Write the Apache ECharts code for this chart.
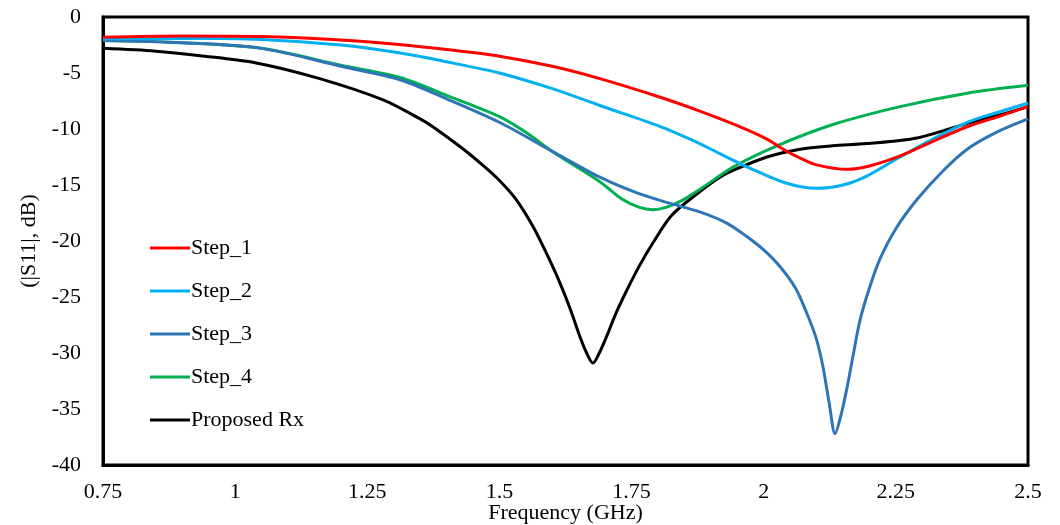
<!DOCTYPE html>
<html>
<head>
<meta charset="utf-8">
<script src="https://cdn.jsdelivr.net/npm/echarts@6/dist/echarts.min.js"></script>
<style>
html,body{margin:0;padding:0;background:#fff;}
#chart{width:1060px;height:525px;}
</style>
</head>
<body>
<div id="chart"></div>
<script>
const seriesNames = ['Step_1', 'Step_2', 'Step_3', 'Step_4', 'Proposed Rx'];
const seriesColors = ['#FF0000', '#00B0F0', '#2E75B6', '#00B050', '#000000'];

const step1Freq = [0.75, 0.9, 1.05, 1.2, 1.31, 1.4, 1.5, 1.6, 1.69, 1.8, 1.879, 1.95, 2.006, 2.04, 2.069, 2.1, 2.158, 2.2, 2.258, 2.32, 2.385, 2.45, 2.5];
const step1Vals = [-1.8, -1.7, -1.75, -2.05, -2.45, -2.9, -3.5, -4.4, -5.5, -7.1, -8.4, -9.7, -10.9, -11.9, -12.6, -13.2, -13.6, -13.3, -12.4, -11.1, -9.8, -8.8, -8.0];

const step2Freq = [0.75, 0.9, 1.05, 1.2, 1.31, 1.4, 1.5, 1.6, 1.69, 1.8, 1.879, 1.917, 1.974, 2.04, 2.1, 2.15, 2.195, 2.258, 2.32, 2.385, 2.45, 2.5];
const step2Vals = [-1.95, -1.9, -2.0, -2.5, -3.2, -4.0, -5.0, -6.4, -7.9, -9.7, -11.3, -12.2, -13.5, -14.8, -15.3, -15.0, -14.2, -12.5, -10.9, -9.4, -8.4, -7.7];

const step3Freq = [0.75, 0.9, 1.05, 1.2, 1.312, 1.4, 1.5, 1.6, 1.69, 1.76, 1.82, 1.879, 1.93, 1.968, 2.0, 2.031, 2.06, 2.082, 2.1, 2.112, 2.124, 2.135, 2.146, 2.158, 2.17, 2.182, 2.2, 2.22, 2.25, 2.29, 2.34, 2.385, 2.44, 2.5];
const step3Vals = [-2.1, -2.3, -2.8, -4.4, -5.6, -7.3, -9.4, -12.0, -14.3, -15.7, -16.6, -17.4, -18.4, -19.6, -20.8, -22.3, -24.2, -26.5, -28.8, -31.2, -34.5, -37.2, -35.6, -33.0, -30.0, -27.1, -24.2, -21.6, -18.9, -16.3, -13.7, -11.8, -10.3, -9.1];

const step4Freq = [0.75, 0.9, 1.05, 1.2, 1.312, 1.4, 1.5, 1.55, 1.6, 1.69, 1.73, 1.765, 1.79, 1.815, 1.845, 1.879, 1.942, 2.025, 2.131, 2.258, 2.385, 2.5];
const step4Vals = [-2.1, -2.3, -2.8, -4.3, -5.4, -7.0, -8.9, -10.3, -12.0, -14.7, -16.2, -17.0, -17.2, -17.0, -16.4, -15.4, -13.4, -11.5, -9.6, -8.0, -6.8, -6.1];

const rxFreq = [0.75, 0.85, 0.9335, 1.04, 1.16, 1.28, 1.35, 1.374, 1.429, 1.47, 1.5, 1.53, 1.5635, 1.59, 1.615, 1.635, 1.652, 1.665, 1.677, 1.689, 1.703, 1.72, 1.741, 1.765, 1.79, 1.826, 1.879, 1.917, 1.942, 2.006, 2.069, 2.13, 2.195, 2.29, 2.385, 2.45, 2.5];
const rxVals = [-2.8, -3.05, -3.45, -4.1, -5.5, -7.4, -9.1, -9.8, -11.7, -13.3, -14.6, -16.2, -18.7, -21.2, -23.8, -26.2, -28.5, -30.0, -30.9, -30.0, -28.5, -26.5, -24.4, -22.2, -20.2, -17.7, -15.6, -14.3, -13.7, -12.5, -11.8, -11.5, -11.3, -10.8, -9.5, -8.7, -8.0];

const freqArrays = [step1Freq, step2Freq, step3Freq, step4Freq, rxFreq];
const valArrays = [step1Vals, step2Vals, step3Vals, step4Vals, rxVals];

const xTickMin = 0.75, xTickMax = 2.5, xTickStep = 0.25;
const yTickMin = -40, yTickMax = 0, yTickStep = 5;

const font = 'Liberation Serif';
const fs = 22;

const series = seriesNames.map((name, i) => ({
  name: name,
  type: 'line',
  data: freqArrays[i].map((f, j) => [f, valArrays[i][j]]),
  smooth: 0.3,
  showSymbol: false,
  symbol: 'none',
  lineStyle: { color: seriesColors[i], width: 3 },
  itemStyle: { color: seriesColors[i] },
  z: 10 - i
}));

const chart = echarts.init(document.getElementById('chart'), null, { renderer: 'canvas' });
chart.setOption({
  animation: false,
  backgroundColor: '#ffffff',
  grid: {
    left: 103, right: 32, top: 17, bottom: 60,
    containLabel: false,
    outerBoundsMode: 'none',
    show: true, borderColor: '#000', borderWidth: 3, backgroundColor: 'transparent'
  },
  legend: {
    orient: 'vertical',
    left: 150, top: 237,
    padding: 0,
    icon: 'rect',
    itemWidth: 40, itemHeight: 3,
    itemGap: 21,
    textStyle: { fontFamily: font, fontSize: fs, color: '#000', padding: [0, 0, 0, -4] },
    data: seriesNames
  },
  xAxis: {
    type: 'value',
    min: xTickMin, max: xTickMax, interval: xTickStep,
    name: 'Frequency (GHz)',
    nameLocation: 'middle',
    nameGap: 37,
    nameMoveOverlap: false,
    nameTextStyle: { fontFamily: font, fontSize: fs, color: '#000' },
    axisLine: { show: true, onZero: false, lineStyle: { color: '#000', width: 3 } },
    axisTick: { show: false },
    splitLine: { show: false },
    axisLabel: { fontFamily: font, fontSize: fs, color: '#000', margin: 16 }
  },
  yAxis: {
    type: 'value',
    min: yTickMin, max: yTickMax, interval: yTickStep,
    name: '(|S11|, dB)',
    nameLocation: 'middle',
    nameGap: 63,
    nameMoveOverlap: false,
    nameRotate: 90,
    nameTextStyle: { fontFamily: font, fontSize: fs, color: '#000' },
    axisLine: { show: true, lineStyle: { color: '#000', width: 3 } },
    axisTick: { show: false },
    splitLine: { show: false },
    axisLabel: { fontFamily: font, fontSize: fs, color: '#000', margin: 22 }
  },
  series: series
});
</script>
</body>
</html>
